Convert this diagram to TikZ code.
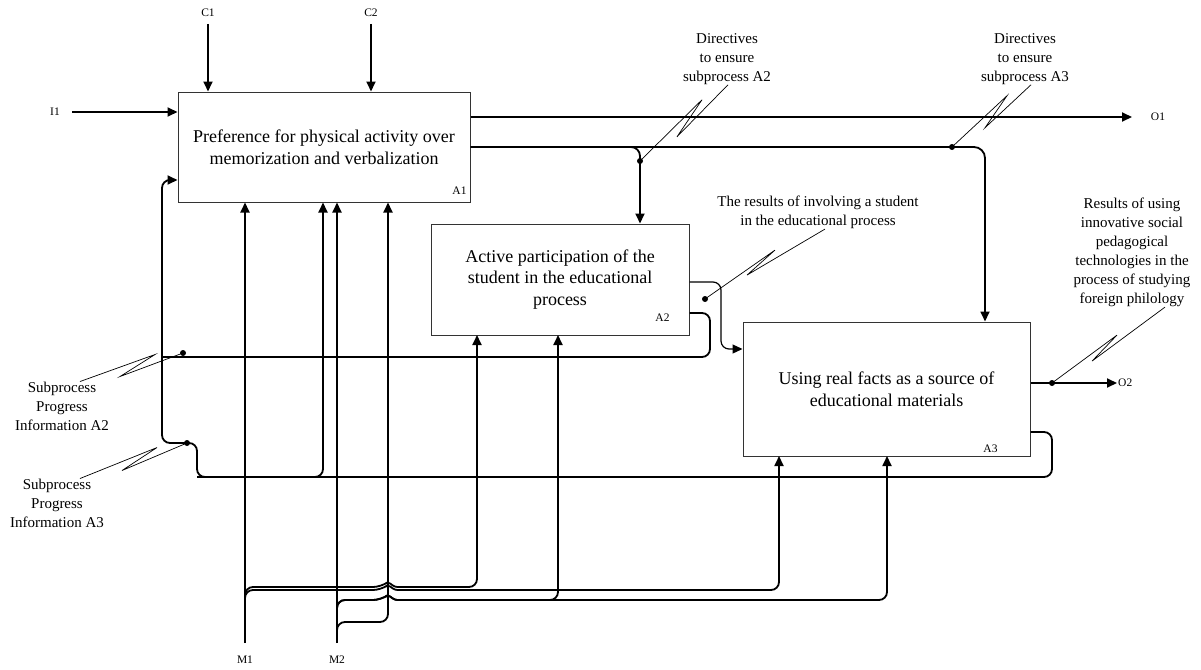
\documentclass[tikz,border=0pt]{standalone}
\usepackage{fontspec}
\setmainfont{Liberation Serif}
\usetikzlibrary{arrows.meta,positioning,calc}

\tikzset{
  procbox/.style={draw=black!80, line width=1pt, align=center, inner sep=0pt,
    font=\fontsize{18}{21.5}\selectfont},
  flow/.style={line width=1.8pt, -{Triangle[length=10pt,width=9pt]}},
  flowthin/.style={line width=1.2pt, -{Triangle[length=10pt,width=9pt]}},
  pipe/.style={line width=1.8pt},
  squig/.style={line width=0.7pt},
  tag/.style={font=\fontsize{11.5}{13}\selectfont, inner sep=1pt},
  note/.style={align=center, inner sep=0pt, font=\fontsize{15}{19}\selectfont},
  joint/.style={circle, fill, inner sep=0pt, minimum size=6pt},
}

\begin{document}
\begin{tikzpicture}[x=1pt, y=-1pt]
\useasboundingbox (0,0) rectangle (1201,669);

% activity boxes
\node[procbox, minimum width=292pt, minimum height=110pt] (A1) at (324,147)
  {Preference for physical activity over\\memorization and verbalization};
\node[procbox, minimum width=258pt, minimum height=111pt] (A2) at (560,279.5)
  {Active participation of the\\student in the educational\\process};
\node[procbox, minimum width=287pt, minimum height=134pt] (A3) at (886.5,389)
  {Using real facts as a source of\\educational materials};
\node[tag] (A1id) at ($(A1.south east)+(-11,-12)$) {A1};
\node[tag] (A2id) at ($(A2.south east)+(-27,-18)$) {A2};
\node[tag] (A3id) at ($(A3.south east)+(-40,-8)$) {A3};

% boundary arrows
\node[tag] (C1) at (208,13) {C1};
\node[tag] (C2) at (371,13) {C2};
\node[tag] (I1) at (55,112) {I1};
\node[tag] (O1) at (1158,117) {O1};
\node[tag, anchor=west] (O2) at (1117,383) {O2};
\node[tag] (M1) at (245,660) {M1};
\node[tag] (M2) at (337,660) {M2};

% routing points
\coordinate (d2) at (640,161);
\coordinate (d3) at (952,147);
\coordinate (r2) at (721,349);
\coordinate (rdot) at (705,299);
\coordinate (fb2) at (710,357);
\coordinate (fb3) at (1052,477);
\coordinate (fb3b) at (197,443);
\coordinate (fbx) at (162,180);
\coordinate (fbup) at (323,477);
\coordinate (m1foot) at (245,643);
\coordinate (m2foot) at (337,643);
\coordinate (m2a1) at (388,622);
\coordinate (o2dot) at (1052,383);
\coordinate (spi2) at (183,353);
\coordinate (spi3) at (187,443);

\draw[flow] ([yshift=-11pt]C1.center) -- (C1 |- A1.north);
\draw[flow] ([yshift=-11pt]C2.center) -- (C2 |- A1.north);
\draw[flow] ([xshift=17pt]I1.center) -- (I1 -| A1.west);
\draw[flow] (A1.east |- O1) -- ([xshift=-26pt]O1.center);

% A1 -> controls of A2, A3
\draw[flow, rounded corners=9pt] (A1.east) -| (d2 |- A2.north);
\draw[flow, rounded corners=11pt] (A1.east) -| ([xshift=98.5pt]A3.north);

% A2 -> A3
\draw[flowthin, rounded corners=8pt] ([yshift=-2.5pt]A2.east) -| (r2) -- (r2 -| A3.west);

% feedback
\draw[pipe, rounded corners=8pt] ([yshift=-33.5pt]A2.east) -| (fb2) -- (fb2 -| fbx);
\draw[flow, rounded corners=8pt] ([yshift=-43pt]A3.east) -| (fb3) -| (fb3b) -| (fbx) -- (fbx -| A1.west);
\draw[flow, rounded corners=8pt] (fb3b |- fb3) -| (fbup |- A1.south);

\draw[flow] (A3.east |- O2) -- (O2.west);

% mechanisms
\draw[flow] (m1foot) -- (m1foot |- A1.south);
\draw[flow] (m2foot) -- (m2foot |- A1.south);
\draw[flow, rounded corners=8pt] ([yshift=3pt]m2foot) |- (m2a1) -- (m2a1 |- A1.south);
\draw[flow, rounded corners=8pt] ([yshift=33pt]m1foot) |- (381,587)
  [rounded corners=2.5pt] -- (388,582) -- (395,587)
  [rounded corners=8pt] -- (477,587) -- (477,335);
\draw[flow, rounded corners=8pt] ([yshift=33pt]m1foot) |- (381,590)
  [rounded corners=2.5pt] -- (388,585) -- (395,590)
  [rounded corners=8pt] -- (779,590) -- (779,456);
\draw[flow, rounded corners=8pt] ([yshift=31pt]m2foot) |- (381,600)
  [rounded corners=2.5pt] -- (388,595) -- (395,600)
  [rounded corners=8pt] -- (558,600) -- (558,335);
\draw[flow, rounded corners=8pt] ([yshift=31pt]m2foot) |- (381,600)
  [rounded corners=2.5pt] -- (388,595) -- (395,600)
  [rounded corners=8pt] -- (887,600) -- (887,456);

% junction dots
\foreach \p in {d2,d3,rdot,o2dot,spi2,spi3}
  \node[joint] at (\p) {};

% notes with squiggles
\node[note] (n1) at (727,59) {Directives\\to ensure\\subprocess A2};
\node[note] (n2) at (1025,59) {Directives\\to ensure\\subprocess A3};
\node[note] (n3) at (818,212.5) {The results of involving a student\\in the educational process};
\node[note] (n4) at (1132,252.5) {Results of using\\innovative social\\pedagogical\\technologies in the\\process of studying\\foreign philology};
\node[note] (n5) at (62,406) {Subprocess\\Progress\\Information A2};
\node[note] (n6) at (57,503) {Subprocess\\Progress\\Information A3};

\draw[squig] ([xshift=1pt]n1.south) -- ++(-51,52) -- ++(25,-37) -- (d2);
\draw[squig] ([xshift=6pt]n2.south) -- ++(-46,43) -- ++(22,-32) -- (d3);
\draw[squig] ([xshift=7pt]n3.south) -- ++(-78,46) -- ++(28,-25) -- (rdot);
\draw[squig] ([xshift=33pt]n4.south) -- ++(-73,54) -- ++(25,-26) -- (o2dot);
\draw[squig] ([xshift=18pt]n5.north) -- ++(75,-27) -- ++(-35,22) -- (spi2);
\draw[squig] ([xshift=23pt]n6.north) -- ++(77,-31) -- ++(-35,23) -- (spi3);
\end{tikzpicture}
\end{document}
